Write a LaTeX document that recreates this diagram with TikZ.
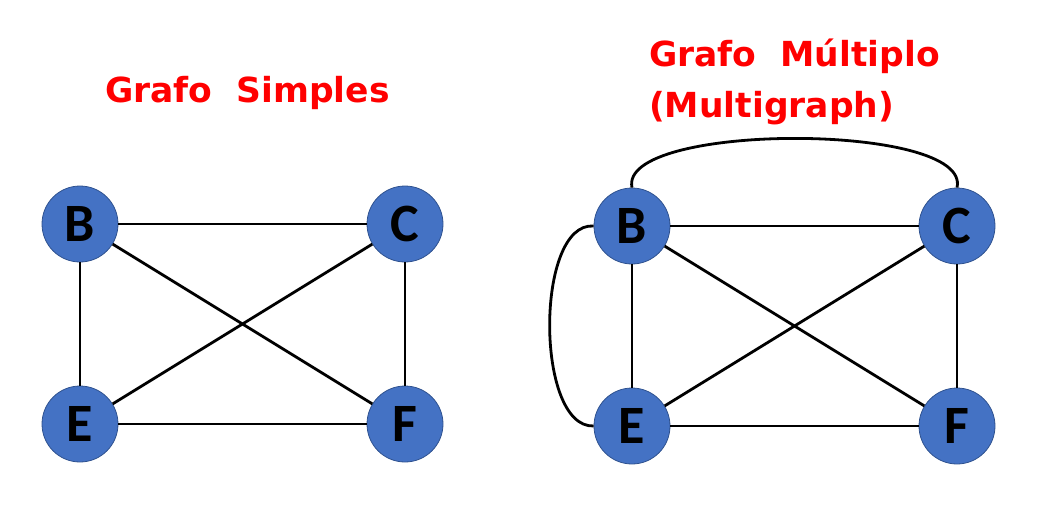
\documentclass[tikz,border=0pt]{standalone}
\usepackage{fontspec}
\newfontfamily\titlefont{DejaVu Sans}[BoldFont={DejaVu Sans Bold}]
\newfontfamily\nodefont{Carlito}
\definecolor{nodeblue}{HTML}{4472C4}
\definecolor{nodeedge}{HTML}{2F528F}
\definecolor{titlered}{HTML}{FF0000}
\begin{document}
\begin{tikzpicture}[x=1pt,y=-1pt,
  vertex/.style={circle,fill=nodeblue,draw=nodeedge,line width=0.8pt,minimum size=76pt,inner sep=0pt,
    font=\nodefont\bfseries\fontsize{54}{54}\selectfont,text=black},
  edge/.style={line width=2.8pt,black},
  ttl/.style={text=titlered,font=\titlefont\bfseries\fontsize{34.5}{50}\selectfont,inner sep=0pt}]
\useasboundingbox (0,0) rectangle (1045,528);
% left graph
\node[vertex] (B1) at (80,224) {B};
\node[vertex] (C1) at (405,224) {C};
\node[vertex] (E1) at (80,424) {E};
\node[vertex] (F1) at (405,424) {F};
\draw[edge] (B1) -- (C1);
\draw[edge] (B1) -- (E1);
\draw[edge] (C1) -- (F1);
\draw[edge] (E1) -- (F1);
\draw[edge] (B1) -- (F1);
\draw[edge] (C1) -- (E1);
\node[ttl,anchor=base west] (T1) at (105,102) {Grafo\ \ Simples};
% right graph
\node[vertex] (B2) at (632,226) {B};
\node[vertex] (C2) at (957,226) {C};
\node[vertex] (E2) at (632,426) {E};
\node[vertex] (F2) at (957,426) {F};
\draw[edge] (B2) -- (C2);
\draw[edge] (B2) -- (E2);
\draw[edge] (C2) -- (F2);
\draw[edge] (E2) -- (F2);
\draw[edge] (B2) -- (F2);
\draw[edge] (C2) -- (E2);
\draw[edge] (B2.north) .. controls (618,122) and (972,122) .. (C2.north);
\draw[edge] (B2.west) .. controls (535,222) and (535,428) .. (E2.west);
\node[ttl,anchor=base west] (T2) at (649,66) {Grafo\ \ Múltiplo};
\node[ttl,anchor=base west] (T3) at (649,117) {(Multigraph)};
\end{tikzpicture}
\end{document}
